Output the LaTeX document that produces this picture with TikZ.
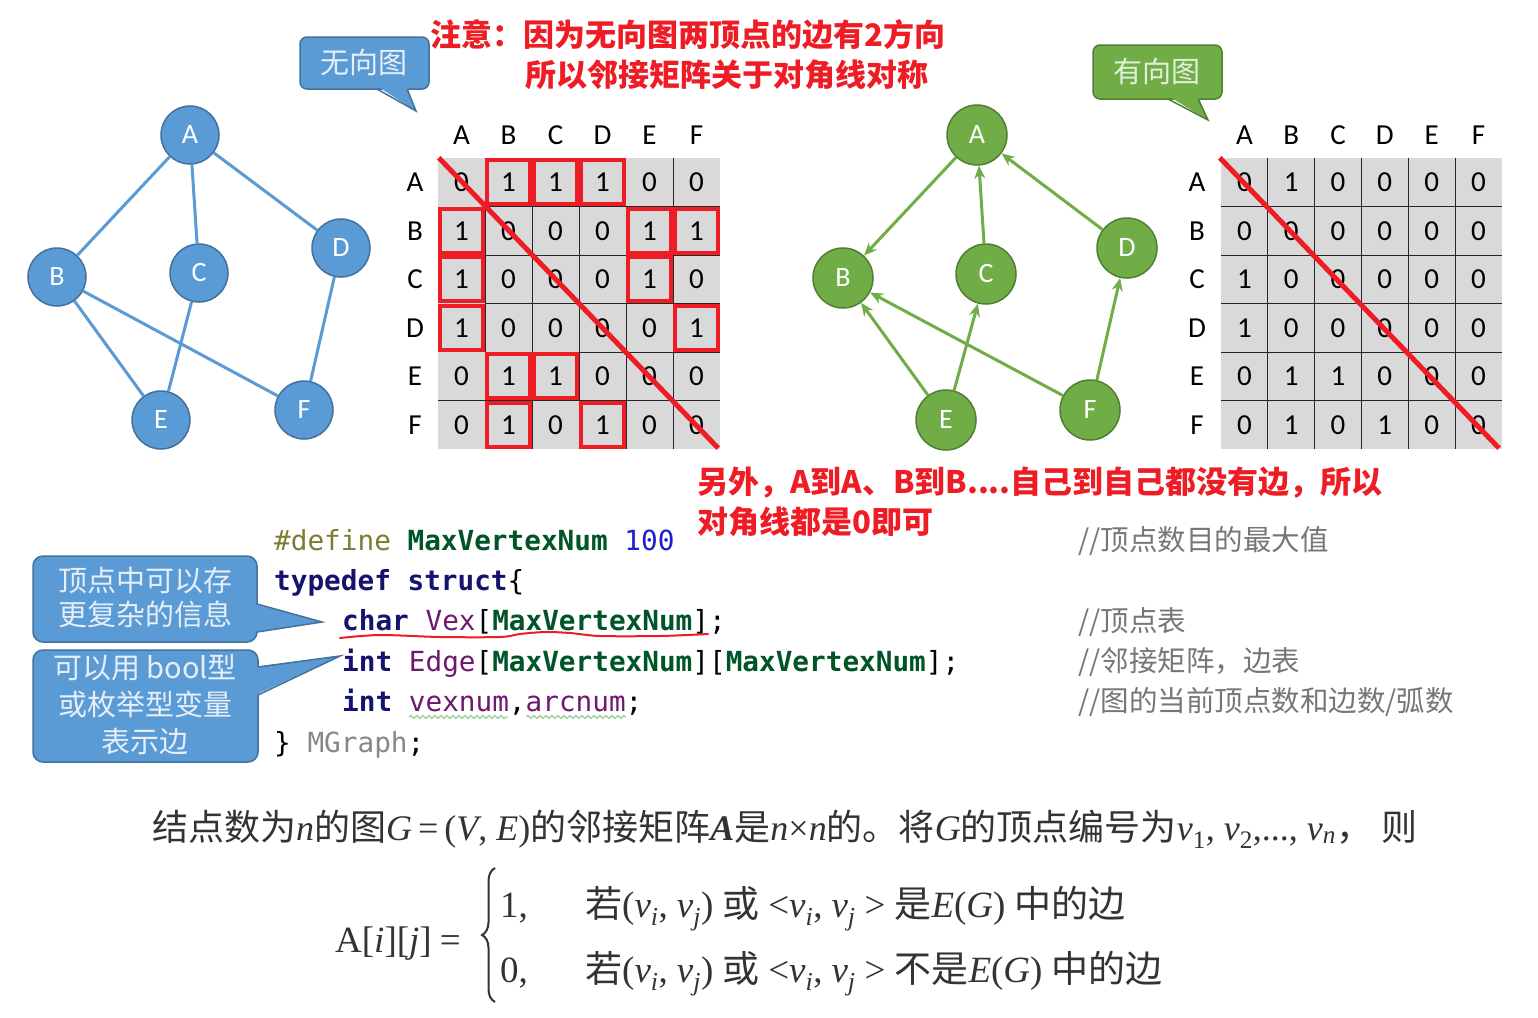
\documentclass[tikz,border=0pt]{standalone}
\usepackage{fontspec}
\setmainfont{Liberation Serif}
\newfontfamily\cjk{Noto Sans CJK SC}
\newfontfamily\carl{Carlito}
\newfontfamily\mono{DejaVu Sans Mono}
\usetikzlibrary{arrows.meta,decorations.pathreplacing,decorations.pathmorphing}
\definecolor{ublue}{HTML}{5B9BD5}
\definecolor{ublueD}{HTML}{41719C}
\definecolor{dgrn}{HTML}{70AD47}
\definecolor{dgrnD}{HTML}{507E32}
\definecolor{cellgray}{HTML}{D9D9D9}
\definecolor{hred}{HTML}{EE1C25}
\definecolor{kwnavy}{RGB}{20,20,110}
\definecolor{kwgreen}{RGB}{0,85,40}
\definecolor{kwolive}{RGB}{125,125,50}
\definecolor{kwblue}{RGB}{30,30,210}
\definecolor{kwpurple}{RGB}{110,25,110}
\definecolor{kwgray}{RGB}{135,135,135}
\definecolor{cmtgray}{RGB}{118,118,118}
\definecolor{lighttxt}{HTML}{E6EEF8}
\definecolor{lightgrn}{HTML}{E2F0D9}
\definecolor{fgray}{HTML}{333333}
\newcommand{\gp}{\hspace{9pt}}
\begin{document}
\begin{tikzpicture}[x=1pt,y=-1pt,
  unode/.style={circle,fill=ublue,draw=ublueD,line width=1.5pt,minimum size=58pt,inner sep=0pt,text=white,font=\carl\fontsize{28}{28}\selectfont},
  dnode/.style={circle,fill=dgrn,draw=dgrnD,line width=1.5pt,minimum size=60pt,inner sep=0pt,text=white,font=\carl\fontsize{28}{28}\selectfont},
  uedge/.style={draw=ublue,line width=3pt},
  dedge/.style={draw=dgrn,line width=3pt,-{Stealth[length=13pt,width=11pt]}},
  cell/.style={rectangle,fill=cellgray,minimum width=47pt,minimum height=48.5pt,inner sep=0pt,font=\carl\fontsize{29}{29}\selectfont},
  rcell/.style={rectangle,fill=cellgray,minimum width=46.8pt,minimum height=48.5pt,inner sep=0pt,font=\carl\fontsize{29}{29}\selectfont},
  lab/.style={inner sep=0pt,font=\carl\fontsize{29}{29}\selectfont},
  gridline/.style={draw=black!85,line width=1pt},
  redbox/.style={draw=hred,line width=4pt},
  redline/.style={draw=hred,line width=5pt},
  redtxt/.style={inner sep=0pt,anchor=west,text=hred,font=\cjk\bfseries\fontsize{31}{31}\selectfont},
  code/.style={inner sep=0pt,anchor=base west,font=\mono\fontsize{27.7}{27.7}\selectfont},
  cmt/.style={inner sep=0pt,anchor=base west,text=cmtgray,font=\cjk\fontsize{28.5}{28.5}\selectfont},
  calltxt/.style={inner sep=0pt,align=center,text=lighttxt,font=\cjk\fontsize{29}{34}\selectfont},
  formula/.style={inner sep=0pt,anchor=base west,text=fgray,font=\fontsize{36}{36}\selectfont},
  cond/.style={inner sep=0pt,anchor=base west,text=fgray,font=\fontsize{37}{37}\selectfont},
  squig/.style={draw=green!55!black!45,line width=1pt,decorate,decoration={snake,amplitude=1.6pt,segment length=6pt}}
]
\useasboundingbox (0,0) rectangle (1538,1017);
\fill[white] (0,0) rectangle (1538,1017);

% ---------- undirected graph ----------
\node[unode] (uA) at (190,135) {A};
\node[unode] (uB) at (57,277) {B};
\node[unode] (uC) at (199,273) {C};
\node[unode] (uD) at (341,248) {D};
\node[unode] (uE) at (161,420) {E};
\node[unode] (uF) at (304,410) {F};
\draw[uedge] (uA) -- (uB);
\draw[uedge] (uA) -- (uC);
\draw[uedge] (uA) -- (uD);
\draw[uedge] (uB) -- (uE);
\draw[uedge] (uB) -- (uF);
\draw[uedge] (uC) -- (uE);
\draw[uedge] (uD) -- (uF);

% ---------- directed graph ----------
\node[dnode] (dA) at (977,135) {A};
\node[dnode] (dB) at (843,278) {B};
\node[dnode] (dC) at (986,274) {C};
\node[dnode] (dD) at (1127,248) {D};
\node[dnode] (dE) at (946,420) {E};
\node[dnode] (dF) at (1090,410) {F};
\draw[dedge] (dA) -- (dB);
\draw[dedge] (dC) -- (dA);
\draw[dedge] (dD) -- (dA);
\draw[dedge] (dE) -- (dB);
\draw[dedge] (dE) -- (dC);
\draw[dedge] (dF) -- (dB);
\draw[dedge] (dF) -- (dD);

% ---------- left matrix ----------
\foreach \row [count=\i from 0] in {{0,1,1,1,0,0},{1,0,0,0,1,1},{1,0,0,0,1,0},{1,0,0,0,0,1},{0,1,1,0,0,0},{0,1,0,1,0,0}}{
  \foreach \v [count=\j from 0] in \row {
    \node[cell] (L\i\j) at ({461.5+47*\j},{182.25+48.5*\i}) {\v};
  }
}
\foreach \k in {1,...,4}{
  \draw[gridline] (485,{158+48.5*\k}) -- (720,{158+48.5*\k});
  \draw[gridline] ({438+47*\k},207) -- ({438+47*\k},449);
}
\draw[gridline] (438,400.5) -- (720,400.5);
\draw[gridline] (673,158) -- (673,449);
\foreach \c [count=\j from 0] in {A,B,C,D,E,F}{
  \node[lab] (Lh\c) at ({461.5+47*\j},135) {\c};
  \node[lab] (Lr\c) at (415,{182.25+48.5*\j}) {\c};
}
\foreach \p in {01,02,03,10,14,15,20,24,30,35,41,42,51,53}{
  \draw[redbox] ([shift={(2.5,2.5)}]L\p.north west) rectangle ([shift={(-2.5,-2.5)}]L\p.south east);
}
\draw[redline] ([shift={(1,0)}]L00.north west) -- ([shift={(-2,-1)}]L55.south east);

% ---------- right matrix ----------
\foreach \row [count=\i from 0] in {{0,1,0,0,0,0},{0,0,0,0,0,0},{1,0,0,0,0,0},{1,0,0,0,0,0},{0,1,1,0,0,0},{0,1,0,1,0,0}}{
  \foreach \v [count=\j from 0] in \row {
    \node[rcell] (R\i\j) at ({1244.4+46.8*\j},{182.25+48.5*\i}) {\v};
  }
}
\foreach \k in {1,...,5}{
  \draw[gridline] (1221,{158+48.5*\k}) -- (1502,{158+48.5*\k});
  \draw[gridline] ({1221+46.8*\k},158) -- ({1221+46.8*\k},449);
}
\foreach \c [count=\j from 0] in {A,B,C,D,E,F}{
  \node[lab] (Rh\c) at ({1244.4+46.8*\j},135) {\c};
  \node[lab] (Rr\c) at (1197,{182.25+48.5*\j}) {\c};
}
\draw[redline] ([shift={(-1,0)}]R00.north west) -- ([shift={(-3,-1)}]R55.south east);

% ---------- callouts ----------
\filldraw[fill=ublue,draw=ublueD,line width=1.5pt,rounded corners=7pt] (300,37) rectangle (429,89);
\fill[ublue] (377,86) -- (407,86) -- (416,111) -- cycle;
\draw[ublueD,line width=1.5pt] (377,89) -- (416,111) -- (407,89);
\node[calltxt] (tU) at (364,62) {无向图};

\filldraw[fill=dgrn,draw=dgrnD,line width=1.5pt,rounded corners=7pt] (1093,45) rectangle (1222,99);
\fill[dgrn] (1168,96) -- (1198,96) -- (1208,120) -- cycle;
\draw[dgrnD,line width=1.5pt] (1168,99) -- (1208,120) -- (1198,99);
\node[calltxt,text=lightgrn] (tD) at (1157,71) {有向图};

\filldraw[fill=ublue,draw=ublueD,line width=1.5pt,rounded corners=10pt] (33,556) rectangle (257,642);
\fill[ublue] (254,604) -- (254,632) -- (322,622) -- cycle;
\draw[ublueD,line width=1.5pt] (257,604) -- (322,622) -- (257,632);
\node[calltxt] (t1) at (145,598) {顶点中可以存\\更复杂的信息};

\filldraw[fill=ublue,draw=ublueD,line width=1.5pt,rounded corners=10pt] (33,650) rectangle (258,762);
\fill[ublue] (255,667) -- (255,695) -- (340,656) -- cycle;
\draw[ublueD,line width=1.5pt] (258,667) -- (340,656) -- (258,695);
\node[calltxt,font=\cjk\fontsize{29}{37}\selectfont] (t2) at (145,705) {可以用 bool型\\或枚举型变量\\表示边};

% ---------- red notes ----------
\node[redtxt] (n1) at (430,35) {注意：因为无向图两顶点的边有2方向};
\node[redtxt] (n2) at (525,75) {所以邻接矩阵关于对角线对称};
\node[redtxt] (n3) at (697,483) {另外，A到A、B到B....自己到自己都没有边，所以};
\node[redtxt] (n4) at (697,522) {对角线都是0即可};

% ---------- code ----------
\node[code] (c1) at (274,550) {{\color{kwolive}\#define} {\bfseries\color{kwgreen}MaxVertexNum} {\color{kwblue}100}};
\node[code] (c2) at (274,590) {{\bfseries\color{kwnavy}typedef struct}\{};
\node[code] (c3) at (342,630) {{\bfseries\color{kwnavy}char} {\color{kwpurple}Vex}[{\bfseries\color{kwgreen}MaxVertexNum}];};
\node[code] (c4) at (342,671) {{\bfseries\color{kwnavy}int} {\color{kwpurple}Edge}[{\bfseries\color{kwgreen}MaxVertexNum}][{\bfseries\color{kwgreen}MaxVertexNum}];};
\node[code] (c5) at (342,711) {{\bfseries\color{kwnavy}int} {\color{kwpurple}vexnum},{\color{kwpurple}arcnum};};
\node[code] (c6) at (274,752) {\} {\color{kwgray}MGraph};};
\draw[hred,line width=2pt,line cap=round] plot[smooth] coordinates {(340,638) (380,635) (440,637) (500,637) (520,634) (545,632) (570,633) (600,636) (660,636) (708,634)};
\draw[squig] (409,717) -- (508,717);
\draw[squig] (526,717) -- (626,717);

\node[cmt] (m1) at (1078,550) {//顶点数目的最大值};
\node[cmt] (m2) at (1078,631) {//顶点表};
\node[cmt] (m3) at (1078,671) {//邻接矩阵，边表};
\node[cmt] (m4) at (1078,711) {//图的当前顶点数和边数/弧数};

% ---------- formulas ----------
\node[formula] (f1) at (152,840) {{\cjk 结点数为}\textit{n}{\cjk 的图}\textit{G}\,=\,(\textit{V}, \textit{E}){\cjk 的邻接矩阵}\textbf{\textit{A}}{\cjk 是}\textit{n}×\textit{n}{\cjk 的。将}\textit{G}{\cjk 的顶点编号为}\textit{v}\textsubscript{1}, \textit{v}\textsubscript{2},..., \textit{v}\textsubscript{\textit{n}}{\cjk ，}\ {\cjk 则}};
\node[cond] (f2) at (335,952) {A[\textit{i}][\textit{j}]\hspace{8pt}=};
\draw[fgray,line width=2pt,decorate,decoration={brace,amplitude=13pt}] (495,1002) -- (495,868);
\node[cond] (f3) at (500,917) {1,};
\node[cond] (f4) at (500,982) {0,};
\node[cond] (f5) at (585,917) {{\cjk 若}(\textit{v}\textsubscript{\textit{i}},\gp\textit{v}\textsubscript{\textit{j}})\gp{\cjk 或}\gp<\textit{v}\textsubscript{\textit{i}},\gp\textit{v}\textsubscript{\textit{j}}\gp>\gp{\cjk 是}\textit{E}(\textit{G})\gp{\cjk 中的边}};
\node[cond] (f6) at (585,982) {{\cjk 若}(\textit{v}\textsubscript{\textit{i}},\gp\textit{v}\textsubscript{\textit{j}})\gp{\cjk 或}\gp<\textit{v}\textsubscript{\textit{i}},\gp\textit{v}\textsubscript{\textit{j}}\gp>\gp{\cjk 不是}\textit{E}(\textit{G})\gp{\cjk 中的边}};
\end{tikzpicture}
\end{document}
